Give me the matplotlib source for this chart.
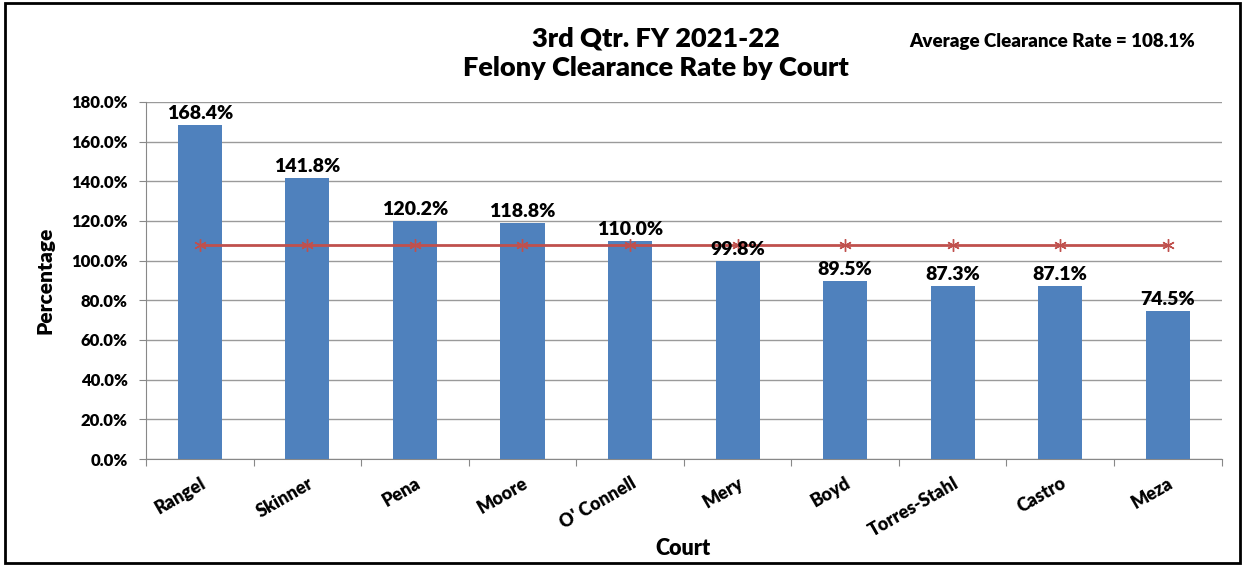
import matplotlib
matplotlib.use("Agg")
from matplotlib import pyplot as plt
from matplotlib.patches import Rectangle
from matplotlib.ticker import FuncFormatter, MultipleLocator
from matplotlib.transforms import ScaledTranslation

courts = ['Rangel', 'Skinner', 'Pena', 'Moore', "O' Connell", 'Mery', 'Boyd',
          'Torres-Stahl', 'Castro', 'Meza']
clearance = [168.4, 141.8, 120.2, 118.8, 110.0, 99.8, 89.5, 87.3, 87.1, 74.5]
average = 108.1

plt.rcParams['font.family'] = ['Lato', 'DejaVu Sans']
plt.rcParams['font.weight'] = 'heavy'

W = 'heavy'

fig = plt.figure(figsize=(12.44, 5.66), dpi=100)
ax = fig.add_axes([0.1174, 0.189, 0.8646, 0.631])

x = list(range(len(courts)))
ax.bar(x, clearance, width=0.41, color='#4F81BD', zorder=3)
ax.plot(x, [average] * len(courts), color='#C0504D', linewidth=2,
        marker=(6, 2, 0), markersize=9, markeredgewidth=1, zorder=4)

for xi, v in zip(x, clearance):
    ax.text(xi, v + 1.5, f"{v:.1f}%", ha='center', va='bottom',
            fontsize=14, fontweight=W, zorder=5)

ax.set_xlim(-0.5, len(courts) - 0.5)
ax.set_ylim(0, 180)
ax.yaxis.set_major_locator(MultipleLocator(20))
ax.yaxis.set_major_formatter(FuncFormatter(lambda v, p: f"{v:.1f}%"))
ax.grid(axis='y', color='#9a9a9a', linewidth=1, zorder=0)

ax.set_xticks([i - 0.5 for i in range(len(courts) + 1)], minor=False)
ax.set_xticklabels([])
ax.set_xticks(x, minor=True)
ax.set_xticklabels(courts, minor=True, rotation=30, ha='right',
                   rotation_mode='anchor', fontsize=13, fontweight=W)
shift = ScaledTranslation(-10 / 72, 0, fig.dpi_scale_trans)
for lbl in ax.get_xticklabels(minor=True):
    lbl.set_transform(lbl.get_transform() + shift)
ax.tick_params(axis='x', which='minor', length=0, pad=11)
ax.tick_params(axis='x', which='major', length=5, color='#888888')
ax.tick_params(axis='y', length=5, color='#888888', labelsize=12, pad=8)
for lbl in ax.get_yticklabels():
    lbl.set_fontweight(W)

for side in ['top', 'right']:
    ax.spines[side].set_visible(False)
for side in ['left', 'bottom']:
    ax.spines[side].set_color('#888888')

ax.set_ylabel('Percentage', fontsize=15, fontweight=W, labelpad=12)
ax.set_xlabel('Court', fontsize=15.5, fontweight=W)
ax.xaxis.set_label_coords(0.499, -0.222)

fig.text(0.527, 0.906, '3rd Qtr. FY 2021-22\nFelony Clearance Rate by Court',
         ha='center', va='center', fontsize=19.5, fontweight=W,
         linespacing=1.3)
fig.text(0.846, 0.926, f'Average Clearance Rate = {average}%', ha='center',
         va='center', fontsize=13.5, fontweight=W)

fig.patches.append(Rectangle((5 / 1244, 3 / 566), 1235 / 1244, 560 / 566,
                             transform=fig.transFigure, fill=False,
                             edgecolor='black', linewidth=2))

fig.savefig('out.png', dpi=100)
